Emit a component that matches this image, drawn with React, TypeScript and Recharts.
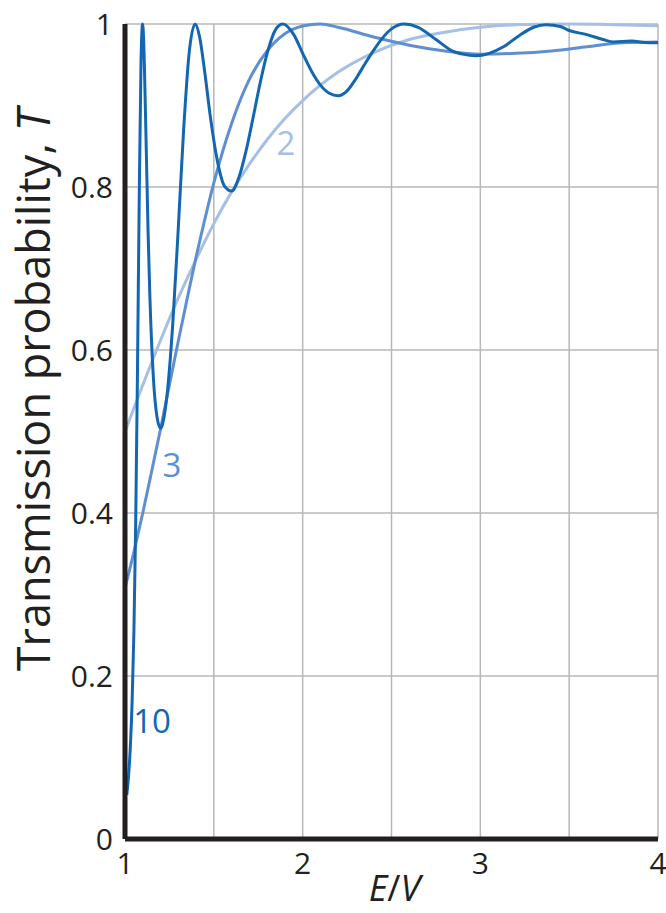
import { CartesianGrid, Line, LineChart, ReferenceDot, XAxis, YAxis } from "recharts";

// Transmission through a square barrier for E > V, one curve per barrier strength
const energy2 = [1.0, 1.1, 1.2, 1.3, 1.4, 1.5, 1.6, 1.7, 1.8, 1.9, 2.0, 2.2, 2.4, 2.6, 2.8, 3.0, 3.2, 3.5, 3.7, 4.0];
const trans2 = [0.5, 0.557, 0.612, 0.664, 0.711, 0.755, 0.794, 0.828, 0.858, 0.884, 0.906, 0.941, 0.965, 0.981, 0.99, 0.996, 0.999, 1.0, 0.9995, 0.998];

const energy3 = [1.0, 1.05, 1.1, 1.15, 1.2, 1.25, 1.3, 1.35, 1.4, 1.45, 1.5, 1.6, 1.7, 1.8, 1.9, 2.0, 2.1, 2.2, 2.4, 2.6, 2.8, 3.0, 3.2, 3.4, 3.6, 3.8, 4.0];
const trans3 = [0.308, 0.352, 0.4, 0.451, 0.503, 0.557, 0.611, 0.663, 0.714, 0.761, 0.805, 0.878, 0.932, 0.967, 0.988, 0.9975, 1.0, 0.996, 0.984, 0.974, 0.967, 0.963, 0.964, 0.967, 0.972, 0.977, 0.978];

const energy10 = [
  1.01, 1.02, 1.03, 1.04, 1.05, 1.06, 1.07, 1.08, 1.09, 1.099, 1.105, 1.11, 1.12, 1.13, 1.14, 1.16, 1.18, 1.2, 1.21, 1.22,
  1.24, 1.27, 1.3, 1.33, 1.36, 1.395, 1.42, 1.45, 1.48, 1.52, 1.56, 1.6, 1.64, 1.68, 1.72, 1.76, 1.8, 1.85, 1.888, 1.95,
  2.0, 2.05, 2.1, 2.15, 2.2, 2.25, 2.3, 2.35, 2.4, 2.45, 2.5, 2.57, 2.65, 2.75, 2.85, 2.9, 2.975, 3.05, 3.13, 3.22,
  3.3, 3.37, 3.45, 3.5, 3.6, 3.69, 3.75, 3.85, 3.95, 4.0,
];
const trans10 = [
  0.054, 0.077, 0.113, 0.168, 0.253, 0.384, 0.569, 0.785, 0.952, 1.0, 0.98, 0.941, 0.843, 0.744, 0.666, 0.565, 0.518, 0.504, 0.508, 0.518,
  0.552, 0.636, 0.75, 0.87, 0.962, 1.0, 0.984, 0.939, 0.887, 0.832, 0.801, 0.795, 0.811, 0.843, 0.884, 0.927, 0.964, 0.994, 1.0, 0.987,
  0.964, 0.942, 0.925, 0.915, 0.912, 0.918, 0.933, 0.951, 0.968, 0.983, 0.994, 1.0, 0.996, 0.981, 0.966, 0.963, 0.961, 0.964, 0.972, 0.986,
  0.996, 0.999, 0.997, 0.992, 0.987, 0.981, 0.978, 0.979, 0.977, 0.977,
];

const xTicks = [1, 1.5, 2, 2.5, 3, 3.5, 4];
const xTickLabels = ["1", "", "2", "", "3", "", "4"];
const yTicks = [0, 0.2, 0.4, 0.6, 0.8, 1];
const yTickLabels = ["0", "0.2", "0.4", "0.6", "0.8", "1"];

const curveNames = ["2", "3", "10"];
const nameSpots = [
  { e: 1.906, t: 0.854 },
  { e: 1.264, t: 0.459 },
  { e: 1.152, t: 0.144 },
];

const FONT = '"Open Sans", "Liberation Sans", sans-serif';
const INK = "#231f20";
const COLORS = ["#a6bfe4", "#5f8fd0", "#1266b2"];

const toRows = (xs: number[], ys: number[]) => xs.map((e, i) => ({ e, t: ys[i] }));
const series = [toRows(energy2, trans2), toRows(energy3, trans3), toRows(energy10, trans10)];

function XTitle(props: any) {
  const vb = props.viewBox || { x: 125, y: 839, width: 533 };
  return (
    <text
      x={vb.x + vb.width / 2 + 3}
      y={vb.y + 62}
      textAnchor="middle"
      fill={INK}
      fontFamily={FONT}
      fontSize={36}
    >
      <tspan fontStyle="italic">E</tspan>
      <tspan>/</tspan>
      <tspan fontStyle="italic">V</tspan>
    </text>
  );
}

function YTitle() {
  return (
    <text
      x={50}
      y={390}
      transform="rotate(-90 50 390)"
      textAnchor="middle"
      fill={INK}
      fontFamily={FONT}
      fontSize={45}
    >
      Transmission probability, <tspan fontStyle="italic">T</tspan>
    </text>
  );
}

export default function App() {
  return (
    <div style={{ width: 666, height: 913, background: "#fff" }}>
      <style>{"body{margin:0}"}</style>
      <LineChart width={666} height={913} margin={{ top: 24, right: 8, bottom: 0, left: 0 }}>
        <CartesianGrid stroke="#b7b7b7" strokeWidth={1.5} />
        <XAxis
          dataKey="e"
          type="number"
          domain={[1, 4]}
          ticks={xTicks}
          tickFormatter={(v: number) => xTickLabels[xTicks.indexOf(v)]}
          height={74}
          tickLine={false}
          tickMargin={8}
          axisLine={{ stroke: INK, strokeWidth: 5 }}
          tick={{ fill: INK, fontSize: 30, fontFamily: FONT }}
          label={<XTitle />}
        />
        <YAxis
          type="number"
          domain={[0, 1]}
          ticks={yTicks}
          tickFormatter={(v: number) => yTickLabels[yTicks.indexOf(v)]}
          width={125}
          tickLine={false}
          tickMargin={6}
          axisLine={{ stroke: INK, strokeWidth: 5 }}
          tick={{ fill: INK, fontSize: 30, fontFamily: FONT }}
          label={<YTitle />}
        />
        {series.map((rows, i) => (
          <Line
            key={curveNames[i]}
            data={rows}
            dataKey="t"
            type="monotone"
            stroke={COLORS[i]}
            strokeWidth={3}
            dot={false}
            isAnimationActive={false}
          />
        ))}
        {nameSpots.map((p, i) => (
          <ReferenceDot
            key={"name" + i}
            x={p.e}
            y={p.t}
            r={0}
            fill="none"
            stroke="none"
            label={{
              value: curveNames[i],
              position: "center",
              fill: COLORS[i],
              fontSize: 33,
              fontFamily: FONT,
            }}
          />
        ))}
      </LineChart>
    </div>
  );
}
